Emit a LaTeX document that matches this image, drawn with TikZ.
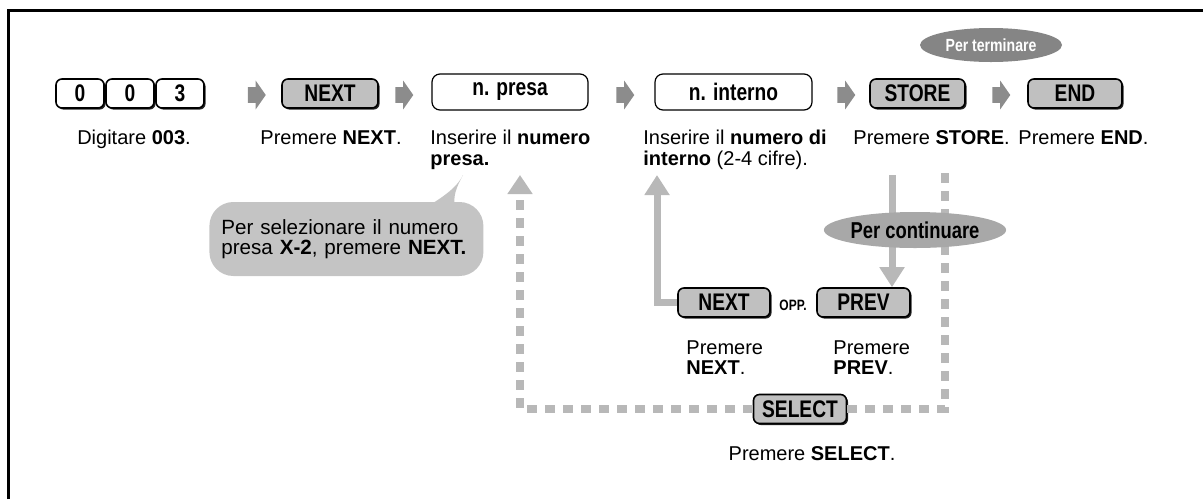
\documentclass[tikz,border=0pt]{standalone}
\usepackage{fontspec}
\setmainfont{Liberation Sans}
\newfontfamily\keyfont{Liberation Sans}[FakeStretch=0.8]
\usetikzlibrary{shapes.geometric,shapes.arrows,shadows,arrows.meta}
\definecolor{PKKey}{HTML}{C0C0C0}
\definecolor{PKChev}{HTML}{8C8C8C}
\definecolor{PKDash}{HTML}{B8B8B8}
\definecolor{PKBubble}{HTML}{C4C4C4}
\definecolor{PKDark}{HTML}{858585}
\definecolor{PKMid}{HTML}{A8A8A8}
\tikzset{
  keybtn/.style={draw=black,line width=0.8pt,fill=PKKey,rounded corners=3pt,
    minimum height=14.5pt,inner sep=0pt,font=\keyfont\bfseries\fontsize{12}{12}\selectfont,
    drop shadow={shadow xshift=0.8pt,shadow yshift=-0.8pt,fill=black!85,opacity=1}},
  digitbtn/.style={keybtn,fill=white,minimum width=24pt},
  entrybox/.style={draw=black,line width=0.6pt,fill=white,rounded corners=4pt,
    minimum width=78pt,minimum height=18pt,inner sep=0pt,font=\keyfont\bfseries\fontsize{12}{12}\selectfont},
  chevron/.style={single arrow,fill=PKChev,draw=none,minimum height=9pt,inner xsep=2pt,inner ysep=3.75pt,
    single arrow head extend=3.25pt,single arrow tip angle=110},
  caption/.style={anchor=north west,align=left,inner sep=0pt,font=\fontsize{10}{10.2}\selectfont},
  flag/.style={ellipse,inner sep=0pt,font=\keyfont\bfseries\fontsize{11.5}{11.5}\selectfont},
  dashret/.style={draw=PKDash,line width=4pt,dash pattern=on 5pt off 4pt},
  solidret/.style={draw=PKDash,line width=3.5pt},
  bubble/.style={fill=PKBubble,rounded corners=12pt,anchor=west,align=left,text width=125pt,
    inner xsep=6pt,minimum height=37pt,font=\fontsize{10.3}{10}\selectfont}
}
\begin{document}
\begin{tikzpicture}[x=0.5pt,y=-0.5pt]
\path[use as bounding box] (0,0) rectangle (1203,499);
\draw[line width=1.5pt] (8,499) -- (8,10.5) -- (1203,10.5);

\coordinate (presaup) at (520,175);
\coordinate (storeup) at (945,173);
\coordinate (intup) at (657,175);
\coordinate (contdown) at (892,175);

\node[keybtn,minimum width=46.5pt] (select) at (800,409) {SELECT};
\draw[dashret,-{Triangle[width=12pt,length=9.5pt]}] (select.west) -| (presaup);
\draw[dashret] (select.east) -| (storeup);

\node[digitbtn] (zeroa) at (80,93.5) {0};
\node[digitbtn] (zerob) at (130,93.5) {0};
\node[digitbtn] (three) at (180,93.5) {3};
\node[keybtn,minimum width=48pt] (next) at (330,93.5) {NEXT};
\node[entrybox] (presa) at (510,92) {n. presa};
\node[entrybox,minimum width=78.5pt] (interno) at (733.5,92) {n. interno};
\node[keybtn,minimum width=47.5pt] (store) at (917.5,93.5) {STORE};
\node[keybtn,minimum width=47pt] (end) at (1075,93.5) {END};

\node[chevron] (chevA) at (254,95) {};
\node[chevron] (chevB) at (401.5,95) {};
\node[chevron] (chevC) at (622.5,95) {};
\node[chevron] (chevD) at (843.5,95) {};
\node[chevron] (chevE) at (998.5,95) {};

\node[flag,fill=PKDark,text=white,minimum width=71pt,minimum height=17pt,
  font=\keyfont\bfseries\fontsize{8.8}{8.8}\selectfont] (finish) at (991,45) {Per terminare};

\node[caption,anchor=north] (capdigit) at (134,130) {Digitare \textbf{003}.};
\node[caption,anchor=north] (capnext) at (331,130) {Premere \textbf{NEXT}.};
\node[caption] (cappresa) at (430,130) {Inserire il \textbf{numero}\\\textbf{presa.}};
\node[caption] (capinterno) at (643,130) {Inserire il \textbf{numero di}\\\textbf{interno} (2-4 cifre).};
\node[caption] (capstore) at (853,130) {Premere \textbf{STORE}.};
\node[caption] (capend) at (1018,130) {Premere \textbf{END}.};

\node[bubble] (hint) at (209,239) {Per selezionare il numero\\presa \textbf{X-2}, premere \textbf{NEXT.}};
\fill[PKBubble] (428,206) .. controls (445,196) and (458,186) .. (463,175)
  .. controls (456,188) and (453,196) .. (455,206) -- cycle;

\node[keybtn,minimum width=46pt] (nextb) at (724,302.5) {NEXT};
\node[keybtn,minimum width=46.5pt] (prev) at (863.5,302.5) {PREV};
\node[inner sep=0pt,font=\keyfont\bfseries\fontsize{7.5}{7.5}\selectfont] (opp) at (793,305) {OPP.};

\draw[solidret,-{Triangle[width=12pt,length=10pt]}] (nextb.west) -| (intup);
\draw[solidret,-{Triangle[width=12pt,length=10pt]}] (contdown) -- (contdown |- prev.north);

\node[flag,fill=PKMid,minimum width=73pt,minimum height=18pt] (goon) at (915,230) {Per continuare};

\node[caption] (capnextb) at (686,340) {Premere\\\textbf{NEXT}.};
\node[caption] (capprev) at (833,340) {Premere\\\textbf{PREV}.};
\node[caption,anchor=north] (capselect) at (812,446) {Premere \textbf{SELECT}.};
\end{tikzpicture}
\end{document}
